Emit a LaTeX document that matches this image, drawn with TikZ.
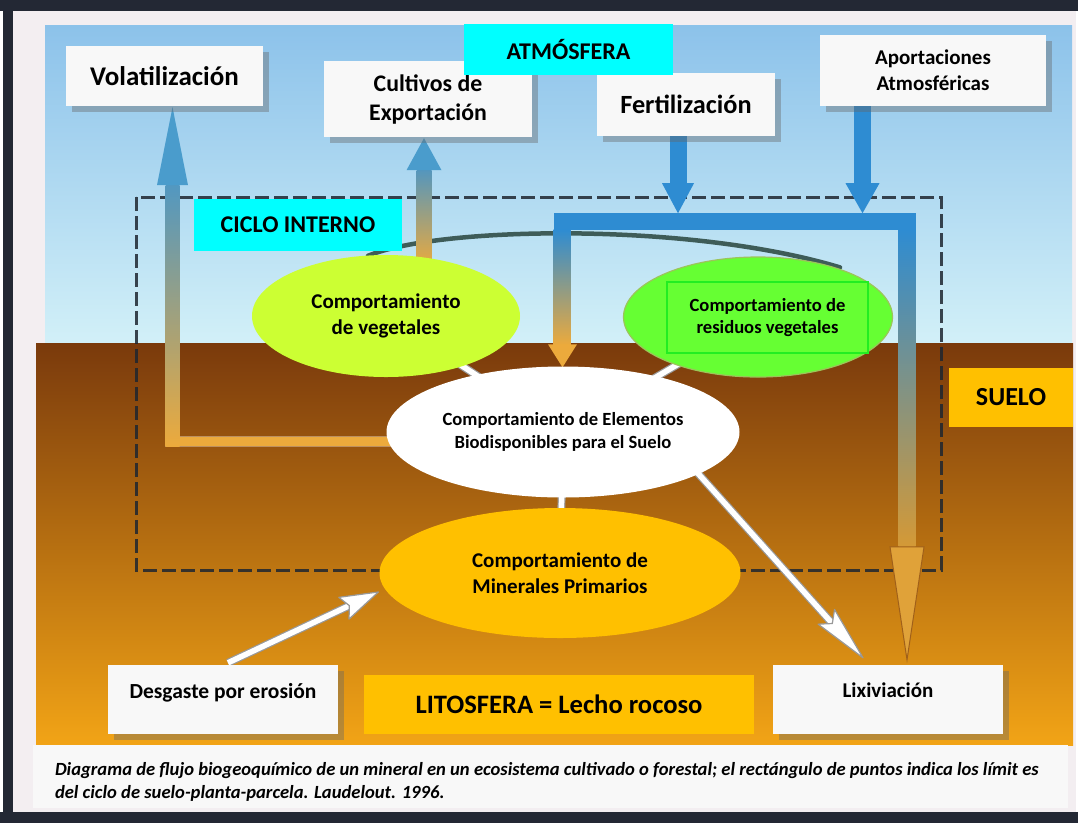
\documentclass[tikz,border=0pt]{standalone}
\usepackage{fontspec}
\setmainfont{Carlito}
\usetikzlibrary{shapes.geometric,shadows,calc}
\definecolor{framecol}{HTML}{232834}
\definecolor{marg}{HTML}{F3EEF1}
\definecolor{skytop}{HTML}{8CC2EA}
\definecolor{skybot}{HTML}{D2F0F8}
\definecolor{soiltop}{HTML}{7A3A0C}
\definecolor{soilmid}{HTML}{C47418}
\definecolor{soilbot}{HTML}{F2A416}
\definecolor{boxwhite}{HTML}{F8F8F8}
\definecolor{cyanbox}{HTML}{00FFFF}
\definecolor{amber}{HTML}{FFC000}
\definecolor{lime}{HTML}{CCFF33}
\definecolor{leaf}{HTML}{66FF33}
\definecolor{leafedge}{HTML}{9CC45A}
\definecolor{leafrect}{HTML}{22EE22}
\definecolor{flowblue}{HTML}{2E8CD2}
\definecolor{headblue}{HTML}{4A9CCC}
\definecolor{flowgray}{HTML}{A8B8BC}
\definecolor{floworange}{HTML}{ECAA3C}
\definecolor{orangeedge}{HTML}{A0601A}
\definecolor{arcgreen}{HTML}{3E5C58}
\definecolor{dashcol}{HTML}{1E2630}
\pgfdeclarelayer{bgA}
\pgfdeclarelayer{bgB}
\pgfsetlayers{bgA,bgB,main}
\newcommand\fsz[2]{\fontsize{#1}{#2}\selectfont}
\begin{document}
\begin{tikzpicture}[x=1pt,y=-1pt,
  wbox/.style={rectangle, fill=boxwhite, inner sep=0pt, align=center,
    drop shadow={shadow xshift=6pt, shadow yshift=-6pt, opacity=0.4, fill=black!60}},
  cbox/.style={rectangle, fill=cyanbox, inner sep=0pt, align=center},
  abox/.style={rectangle, fill=amber, inner sep=0pt, align=center},
  oval/.style={ellipse, inner sep=0pt, align=center},
  wline/.style={draw=black!40, double=white, double distance=5.5pt, line width=1.2pt},
  whead/.style={fill=white, draw=black!40, line width=1.2pt, line join=round}
]
\useasboundingbox (0,0) rectangle (1078,823);

% ---------- nodes ----------
\node[wbox, minimum width=197pt, minimum height=60pt, font=\bfseries\fsz{27}{30}] (vol) at (164.5,76) {Volatilización};
\node[wbox, minimum width=208pt, minimum height=76pt, font=\bfseries\fsz{23.8}{29}] (cult) at (428,99) {Cultivos de\\Exportación};
\node[wbox, minimum width=178pt, minimum height=63pt, font=\bfseries\fsz{26.3}{30}] (fert) at (686,104.5) {Fertilización};
\node[cbox, minimum width=209pt, minimum height=51pt, font=\bfseries\fsz{24}{28}] (atm) at (568.5,49.5) {ATMÓSFERA};
\node[wbox, minimum width=226pt, minimum height=71pt, font=\bfseries\fsz{21}{26}] (apor) at (933,70.5) {Aportaciones\\Atmosféricas};
\node[cbox, minimum width=208pt, minimum height=52pt, font=\bfseries\fsz{24}{28}] (ciclo) at (298,225) {CICLO INTERNO};
\node[abox, minimum width=124pt, minimum height=59pt, font=\bfseries\fsz{26}{30}] (suelo) at (1011,397.5) {SUELO};
\node[wbox, minimum width=230pt, minimum height=69pt, text depth=18pt, font=\bfseries\fsz{21.5}{24}] (desg) at (223,699.5) {Desgaste por erosión};
\node[abox, minimum width=390pt, minimum height=59pt, font=\bfseries\fsz{26.6}{30}] (lito) at (559,704.5) {LITOSFERA = Lecho rocoso};
\node[wbox, minimum width=230pt, minimum height=69pt, text depth=18pt, font=\bfseries\fsz{21}{24}] (lix) at (888,699.5) {Lixiviación};

\node[oval, fill=lime, minimum width=268pt, minimum height=122pt, font=\bfseries\fsz{21}{26}] (veg) at (386,316) {Comportamiento\\de vegetales};
\node[oval, fill=leaf, draw=leafedge, line width=1.2pt, minimum width=269pt, minimum height=120pt] (res) at (758,317) {};
\node[rectangle, draw=leafrect, line width=1.5pt, minimum width=201pt, minimum height=71pt, inner sep=0pt, align=center, font=\bfseries\fsz{18.6}{22}] (resbox) at (767.5,317.5) {Comportamiento de\\residuos vegetales};
\node[oval, fill=white, minimum width=353pt, minimum height=131pt, font=\bfseries\fsz{18.6}{23}] (elem) at (563,432) {Comportamiento de Elementos\\Biodisponibles para el Suelo};
\node[oval, fill=amber, minimum width=361pt, minimum height=130pt, font=\bfseries\fsz{21}{26}] (min) at (560,573) {Comportamiento de\\Minerales Primarios};

\node[rectangle, fill=boxwhite, minimum width=1035pt, minimum height=63pt, inner sep=0pt] (capbox) at (550.5,776.5) {};
\node[anchor=west, align=left, inner sep=0pt, font=\bfseries\itshape\fsz{18.6}{23}] (captext) at ($(capbox.west)+(22,5)$) {Diagrama de flujo biogeoquímico de un mineral en un ecosistema cultivado o forestal; el rectángulo de puntos indica los límit es\\del ciclo de suelo-planta-parcela. Laudelout. 1996.};

% ---------- background ----------
\begin{pgfonlayer}{bgA}
  \fill[white] (0,0) rectangle (1078,823);
  \fill[marg] (13,11) rectangle (1076,812);
  \shade[top color=skytop, bottom color=skybot] (45,25) rectangle (1072,343);
  \shade[top color=soiltop, middle color=soilmid, bottom color=soilbot] (36,343) rectangle (1073,745);
  \fill[framecol] (0,0) rectangle (1078,11);
  \fill[framecol] (3,0) rectangle (13,823);
  \fill[framecol] (0,812) rectangle (1078,823);
  \draw[dashcol, opacity=0.85, line width=3pt, dash pattern=on 14pt off 5pt] (136,197) rectangle (941,570);
\end{pgfonlayer}

% ---------- flows ----------
\begin{pgfonlayer}{bgB}
  % internal cycle arc
  \draw[arcgreen, line width=4.5pt, line cap=round] ($(veg.north)+(-18,1)$) .. controls (440,226) and (690,222) .. ($(res.north)+(82,11)$);
  % white links
  \draw[wline] (veg.center) -- (elem.center);
  \draw[wline] (res.center) -- (elem.center);
  \draw[wline] (elem.center) -- (min.center);

  % volatilizacion
  \coordinate (vcorner) at ($(vol.south |- elem.west)+(8,9)$);
  \coordinate (vhead) at ($(vol.south)+(8,79)$);
  \filldraw[fill=floworange, draw=orangeedge!70, line width=0.6pt] ($(vcorner)+(-7,-5)$) rectangle ($(elem.west)+(12,14)$);
  \shade[top color=headblue!85!gray, middle color=flowgray!60!floworange, bottom color=floworange] ($(vcorner)+(-7,5)$) rectangle ($(vhead)+(7,0)$);
  \fill[headblue] ($(vhead)+(-15.5,0)$) -- ($(vhead)+(15.5,0)$) -- ($(vol.south)+(8,1)$) -- cycle;

  % cultivos
  \coordinate (chead) at ($(cult.south)+(-4,33)$);
  \shade[top color=headblue!80!gray, middle color=flowgray, bottom color=floworange] ($(chead)+(-7.5,0)$) rectangle ($(veg.north)+(45.5,12)$);
  \fill[headblue] ($(chead)+(-17.5,0)$) -- ($(chead)+(17.5,0)$) -- ($(cult.south)+(-4,1)$) -- cycle;

  % fertilizacion
  \coordinate (fhead) at ($(fert.south)+(-8,47)$);
  \fill[flowblue] ($(fert.south)+(-16.5,0)$) rectangle ($(fhead)+(8.5,0)$);
  \fill[flowblue] ($(fhead)+(-16,0)$) -- ($(fhead)+(16,0)$) -- ($(fhead)+(0,30)$) -- cycle;

  % aportaciones
  \coordinate (ahead) at ($(apor.south)+(-70.5,77)$);
  \fill[flowblue] ($(apor.south)+(-79,0)$) rectangle ($(ahead)+(8.5,0)$);
  \fill[flowblue] ($(ahead)+(-17,0)$) -- ($(ahead)+(17,0)$) -- ($(ahead)+(0,30)$) -- cycle;

  % blue distribution bar
  \coordinate (ubl) at (562,221);
  \coordinate (ubr) at (907,221);
  \fill[flowblue] ($(ubl)+(-8.5,-8.5)$) rectangle ($(ubr)+(8.5,8.5)$);
  \shade[top color=flowblue, middle color=flowgray, bottom color=floworange] ($(ubl)+(-8.5,8.5)$) rectangle ($(elem.north)+(7.5,-21)$);
  \fill[floworange] ($(elem.north)+(-15,-22)$) -- ($(elem.north)+(14,-22)$) -- ($(elem.north)+(-0.5,1)$) -- cycle;
  \coordinate (rhead) at ($(lix.north)+(19,-118)$);
  \shade[top color=flowblue, middle color=flowgray!80!white, bottom color=floworange!90!black] ($(ubr)+(-8.5,8.5)$) rectangle ($(rhead)+(8.5,0)$);
  \filldraw[fill=floworange!95!black, draw=orangeedge, line width=1pt] ($(rhead)+(-17,0)$) -- ($(rhead)+(17,0)$) -- ($(lix.north)+(19,-5)$) -- cycle;

  % lixiviacion (white arrow)
  \coordinate (lxS) at ($(elem.center)+(98,0)$);
  \coordinate (lxT) at ($(lix.north)+(-25,-7)$);
  \coordinate (lxB) at ($(lxT)!55pt!(lxS)$);
  \draw[wline] (lxS) -- ($(lxT)!44pt!(lxS)$);
  \filldraw[whead] ($(lxB)!11pt!90:(lxT)$) -- (lxT) -- ($(lxB)!11pt!-90:(lxT)$) -- ($(lxT)!46pt!(lxS)$) -- cycle;

  % desgaste (white arrow)
  \coordinate (dgS) at ($(desg.north)+(5,-2)$);
  \coordinate (dgT) at ($(min.west)+(-1,19)$);
  \coordinate (dgB) at ($(dgT)!38pt!(dgS)$);
  \draw[wline] (dgS) -- ($(dgT)!30pt!(dgS)$);
  \filldraw[whead] ($(dgB)!12pt!90:(dgT)$) -- (dgT) -- ($(dgB)!12pt!-90:(dgT)$) -- ($(dgT)!32pt!(dgS)$) -- cycle;
\end{pgfonlayer}
\end{tikzpicture}
\end{document}
